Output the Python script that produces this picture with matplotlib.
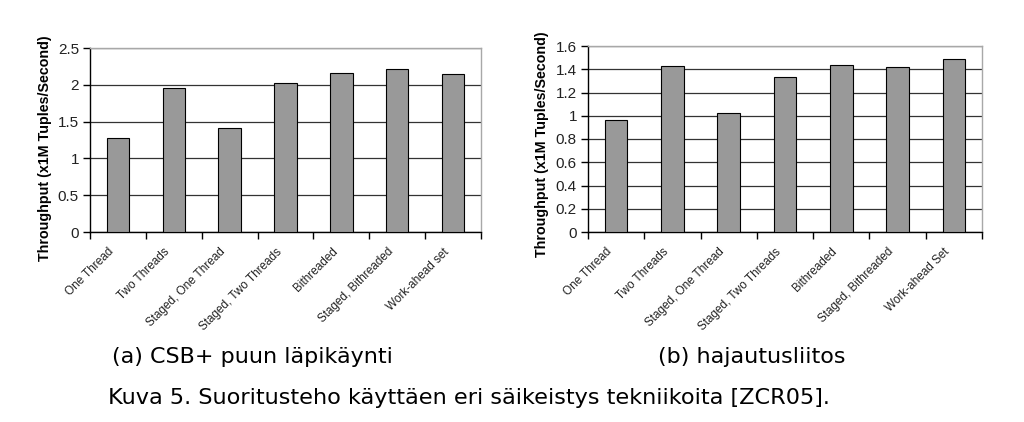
import matplotlib
matplotlib.use("Agg")
import matplotlib.pyplot as plt
import numpy as np
from matplotlib.ticker import FixedLocator

categories_a = ["One Thread", "Two Threads", "Staged, One Thread", "Staged, Two Threads",
                "Bithreaded", "Staged, Bithreaded", "Work-ahead set"]
values_a = [1.28, 1.95, 1.41, 2.02, 2.16, 2.22, 2.15]
yticks_a = [0, 0.5, 1, 1.5, 2, 2.5]
yticklabels_a = ["0", "0.5", "1", "1.5", "2", "2.5"]

categories_b = ["One Thread", "Two Threads", "Staged, One Thread", "Staged, Two Threads",
                "Bithreaded", "Staged, Bithreaded", "Work-ahead Set"]
values_b = [0.96, 1.43, 1.02, 1.33, 1.44, 1.42, 1.49]
yticks_b = [0, 0.2, 0.4, 0.6, 0.8, 1, 1.2, 1.4, 1.6]
yticklabels_b = ["0", "0.2", "0.4", "0.6", "0.8", "1", "1.2", "1.4", "1.6"]

ylabel = "Throughput (x1M Tuples/Second)"
caption_a = "(a) CSB+ puun läpikäynti"
caption_b = "(b) hajautusliitos"
caption = "Kuva 5. Suoritusteho käyttäen eri säikeistys tekniikoita [ZCR05]."

fig = plt.figure(figsize=(10.24, 4.22), dpi=100)
fig.patch.set_facecolor("white")

ARIAL = "Liberation Sans"

def draw(ax, cats, vals, yt, ytl):
    n = len(cats)
    x = np.arange(n)
    ax.bar(x, vals, width=0.4, color="#999999", edgecolor="black", linewidth=0.8, zorder=3)
    ax.set_xlim(-0.5, n - 0.5)
    ax.set_ylim(yt[0], yt[-1])
    ax.set_yticks(yt)
    ax.set_yticklabels(ytl, fontfamily=ARIAL, fontsize=11, color="#222222")
    ax.yaxis.grid(True, color="#333333", linewidth=0.9, zorder=1)
    ax.set_axisbelow(True)
    # label anchors sit slightly left of each category centre, as in the original
    ax.set_xticks(x - 0.18)
    ax.set_xticklabels(cats, rotation=45, ha="right", rotation_mode="anchor",
                       fontfamily=ARIAL, fontsize=8.5, color="#222222")
    ax.tick_params(axis="x", which="major", length=0, pad=10)
    ax.xaxis.set_minor_locator(FixedLocator(np.arange(-0.5, n, 1.0)))
    ax.tick_params(axis="x", which="minor", length=5, width=1, color="black", direction="out")
    ax.tick_params(axis="y", length=5, width=1, color="black", direction="out", pad=3)
    for s in ("top", "right"):
        ax.spines[s].set_color("#a8a8a8")
        ax.spines[s].set_linewidth(1)
    for s in ("left", "bottom"):
        ax.spines[s].set_color("black")
        ax.spines[s].set_linewidth(1)
    ax.set_ylabel(ylabel, fontfamily=ARIAL, fontweight="bold", fontsize=10.3)

ax1 = fig.add_axes([90/1024, 1 - 232/422, 391/1024, 184/422])
draw(ax1, categories_a, values_a, yticks_a, yticklabels_a)
ax1.yaxis.set_label_coords(-38/391, 0.457)

ax2 = fig.add_axes([588/1024, 1 - 232/422, 394/1024, 186/422])
draw(ax2, categories_b, values_b, yticks_b, yticklabels_b)
ax2.yaxis.set_label_coords(-39/394, 0.47)

fig.text(112/1024, 1 - 357/422, caption_a, fontfamily="DejaVu Sans", fontsize=16,
         ha="left", va="center", color="black")
fig.text(752/1024, 1 - 357/422, caption_b, fontfamily="DejaVu Sans", fontsize=16,
         ha="center", va="center", color="black")
fig.text(108/1024, 1 - 398/422, caption, fontfamily="DejaVu Sans", fontsize=16.1,
         ha="left", va="center", color="black")

fig.savefig("out.png", dpi=100, facecolor="white")
